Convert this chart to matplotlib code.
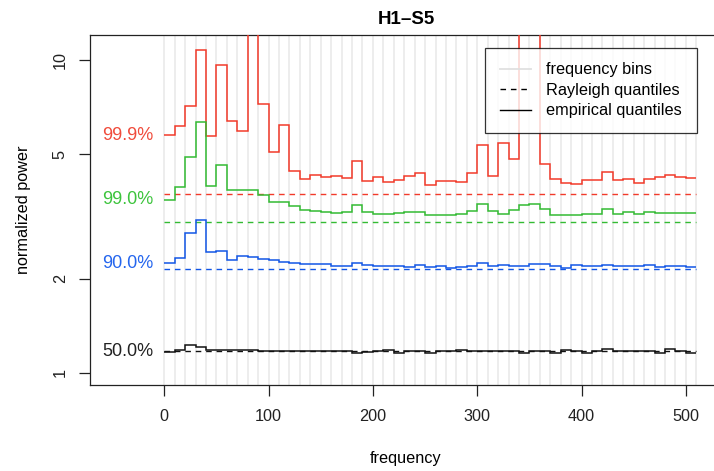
import numpy as np
import matplotlib
matplotlib.use("Agg")
import matplotlib.pyplot as plt
from matplotlib.lines import Line2D

plt.rcParams['font.family'] = ['Liberation Sans', 'DejaVu Sans']

# ---- data ----
bin_edges = np.arange(0, 520, 10)          # 51 frequency bins of width 10
quantile_labels = ["99.9%", "99.0%", "90.0%", "50.0%"]
rayleigh_q = [3.717, 3.035, 2.146, 1.177]

q999 = [5.75, 6.15, 7.11, 10.74, 5.73, 9.64, 6.38, 5.93, 14.0, 7.22,
        5.07, 6.18, 4.42, 4.15, 4.28, 4.24, 4.26, 4.19, 4.76, 4.10,
        4.24, 4.06, 4.12, 4.27, 4.35, 3.98, 4.10, 4.09, 4.06, 4.35,
        5.36, 4.26, 5.42, 4.83, 16.0, 13.5, 4.64, 4.17, 4.04, 4.01,
        4.12, 4.14, 4.38, 4.12, 4.15, 4.04, 4.17, 4.24, 4.30, 4.23, 4.21]
q990 = [3.58, 3.92, 4.91, 6.35, 3.95, 4.63, 3.83, 3.85, 3.83, 3.70,
        3.51, 3.52, 3.41, 3.31, 3.28, 3.26, 3.25, 3.27, 3.43, 3.26,
        3.22, 3.22, 3.25, 3.26, 3.27, 3.20, 3.20, 3.19, 3.22, 3.28,
        3.47, 3.29, 3.22, 3.32, 3.43, 3.47, 3.33, 3.19, 3.20, 3.20,
        3.22, 3.22, 3.33, 3.22, 3.26, 3.21, 3.27, 3.25, 3.24, 3.23, 3.24]
q900 = [2.24, 2.33, 2.80, 3.07, 2.43, 2.45, 2.30, 2.36, 2.34, 2.31,
        2.29, 2.26, 2.24, 2.22, 2.22, 2.23, 2.20, 2.20, 2.25, 2.21,
        2.19, 2.19, 2.19, 2.18, 2.21, 2.18, 2.19, 2.17, 2.18, 2.20,
        2.24, 2.20, 2.21, 2.19, 2.19, 2.23, 2.23, 2.19, 2.17, 2.21,
        2.19, 2.19, 2.21, 2.20, 2.19, 2.19, 2.21, 2.18, 2.19, 2.19, 2.18]
q500 = [1.165, 1.182, 1.224, 1.208, 1.182, 1.180, 1.178, 1.180, 1.185, 1.175,
        1.170, 1.175, 1.174, 1.170, 1.174, 1.176, 1.172, 1.176, 1.153, 1.165,
        1.171, 1.185, 1.160, 1.171, 1.176, 1.160, 1.171, 1.176, 1.185, 1.176,
        1.171, 1.171, 1.174, 1.176, 1.160, 1.171, 1.176, 1.160, 1.185, 1.171,
        1.160, 1.171, 1.188, 1.176, 1.171, 1.174, 1.171, 1.160, 1.188, 1.176, 1.160]

colors = ['#F23A2A', '#33BB33', '#1256E6', '#111111']
label_colors = ['#F04C3C', '#3DC43D', '#2566EE', '#222222']
series = [q999, q990, q900, q500]

# ---- figure ----
W, H = 714, 471
fig = plt.figure(figsize=(W / 100, H / 100), dpi=100)
ax = fig.add_axes([90 / W, (H - 385) / H, 632 / W, (385 - 34.7) / H])

ax.set_yscale('log')
ax.set_xlim(-71.2, 534.6)
ax.set_ylim(0.9135, 12.05)

for e in bin_edges:
    ax.axvline(e, color='#E8E8E8', lw=1.1, zorder=1)

for vals, rq, c, lc, lab in zip(series, rayleigh_q, colors, label_colors, quantile_labels):
    ax.hlines(rq, bin_edges[0], bin_edges[-1], colors=c, linestyles=(0, (4, 3.5)),
              lw=1.0, zorder=2)
    ax.stairs(vals, bin_edges, baseline=None, color=c, lw=1.1, zorder=3)
    ax.text(-10, vals[0], lab, color=lc, ha='right', va='center', fontsize=13)

ax.set_xticks([0, 100, 200, 300, 400, 500])
ax.set_xticklabels(['0', '100', '200', '300', '400', '500'])
ax.set_yticks([1, 2, 5, 10])
ax.set_yticklabels(['1', '2', '5', '10'], rotation=90, va='center')
ax.minorticks_off()
ax.tick_params(axis='both', direction='out', length=8, width=0.9,
               labelsize=11.7, colors='#222222')
ax.tick_params(axis='x', pad=9)
ax.tick_params(axis='y', pad=8)
for s in ax.spines.values():
    s.set_linewidth(0.9)
    s.set_color('#222222')

ax.set_title('H1\u2013S5', fontsize=13.5, fontweight='bold', pad=8)
ax.set_xlabel('frequency', fontsize=11.7, labelpad=20)
ax.set_ylabel('normalized power', fontsize=11.7, labelpad=16)

handles = [Line2D([], [], color='#E0E0E0', lw=1.3),
           Line2D([], [], color='black', lw=1.0, linestyle=(0, (4, 3.5))),
           Line2D([], [], color='black', lw=1.0)]
leg = fig.legend(handles, ['frequency bins', 'Rayleigh quantiles', 'empirical quantiles'],
                 loc='upper right', bbox_to_anchor=(696.7 / W, 1 - 47.7 / H),
                 frameon=True, fancybox=False, edgecolor='black', fontsize=11.7,
                 handlelength=1.9, handletextpad=0.95, borderpad=0.9,
                 labelspacing=0.34, borderaxespad=0)
leg.get_frame().set_linewidth(0.9)

fig.savefig('out.png', dpi=100)
